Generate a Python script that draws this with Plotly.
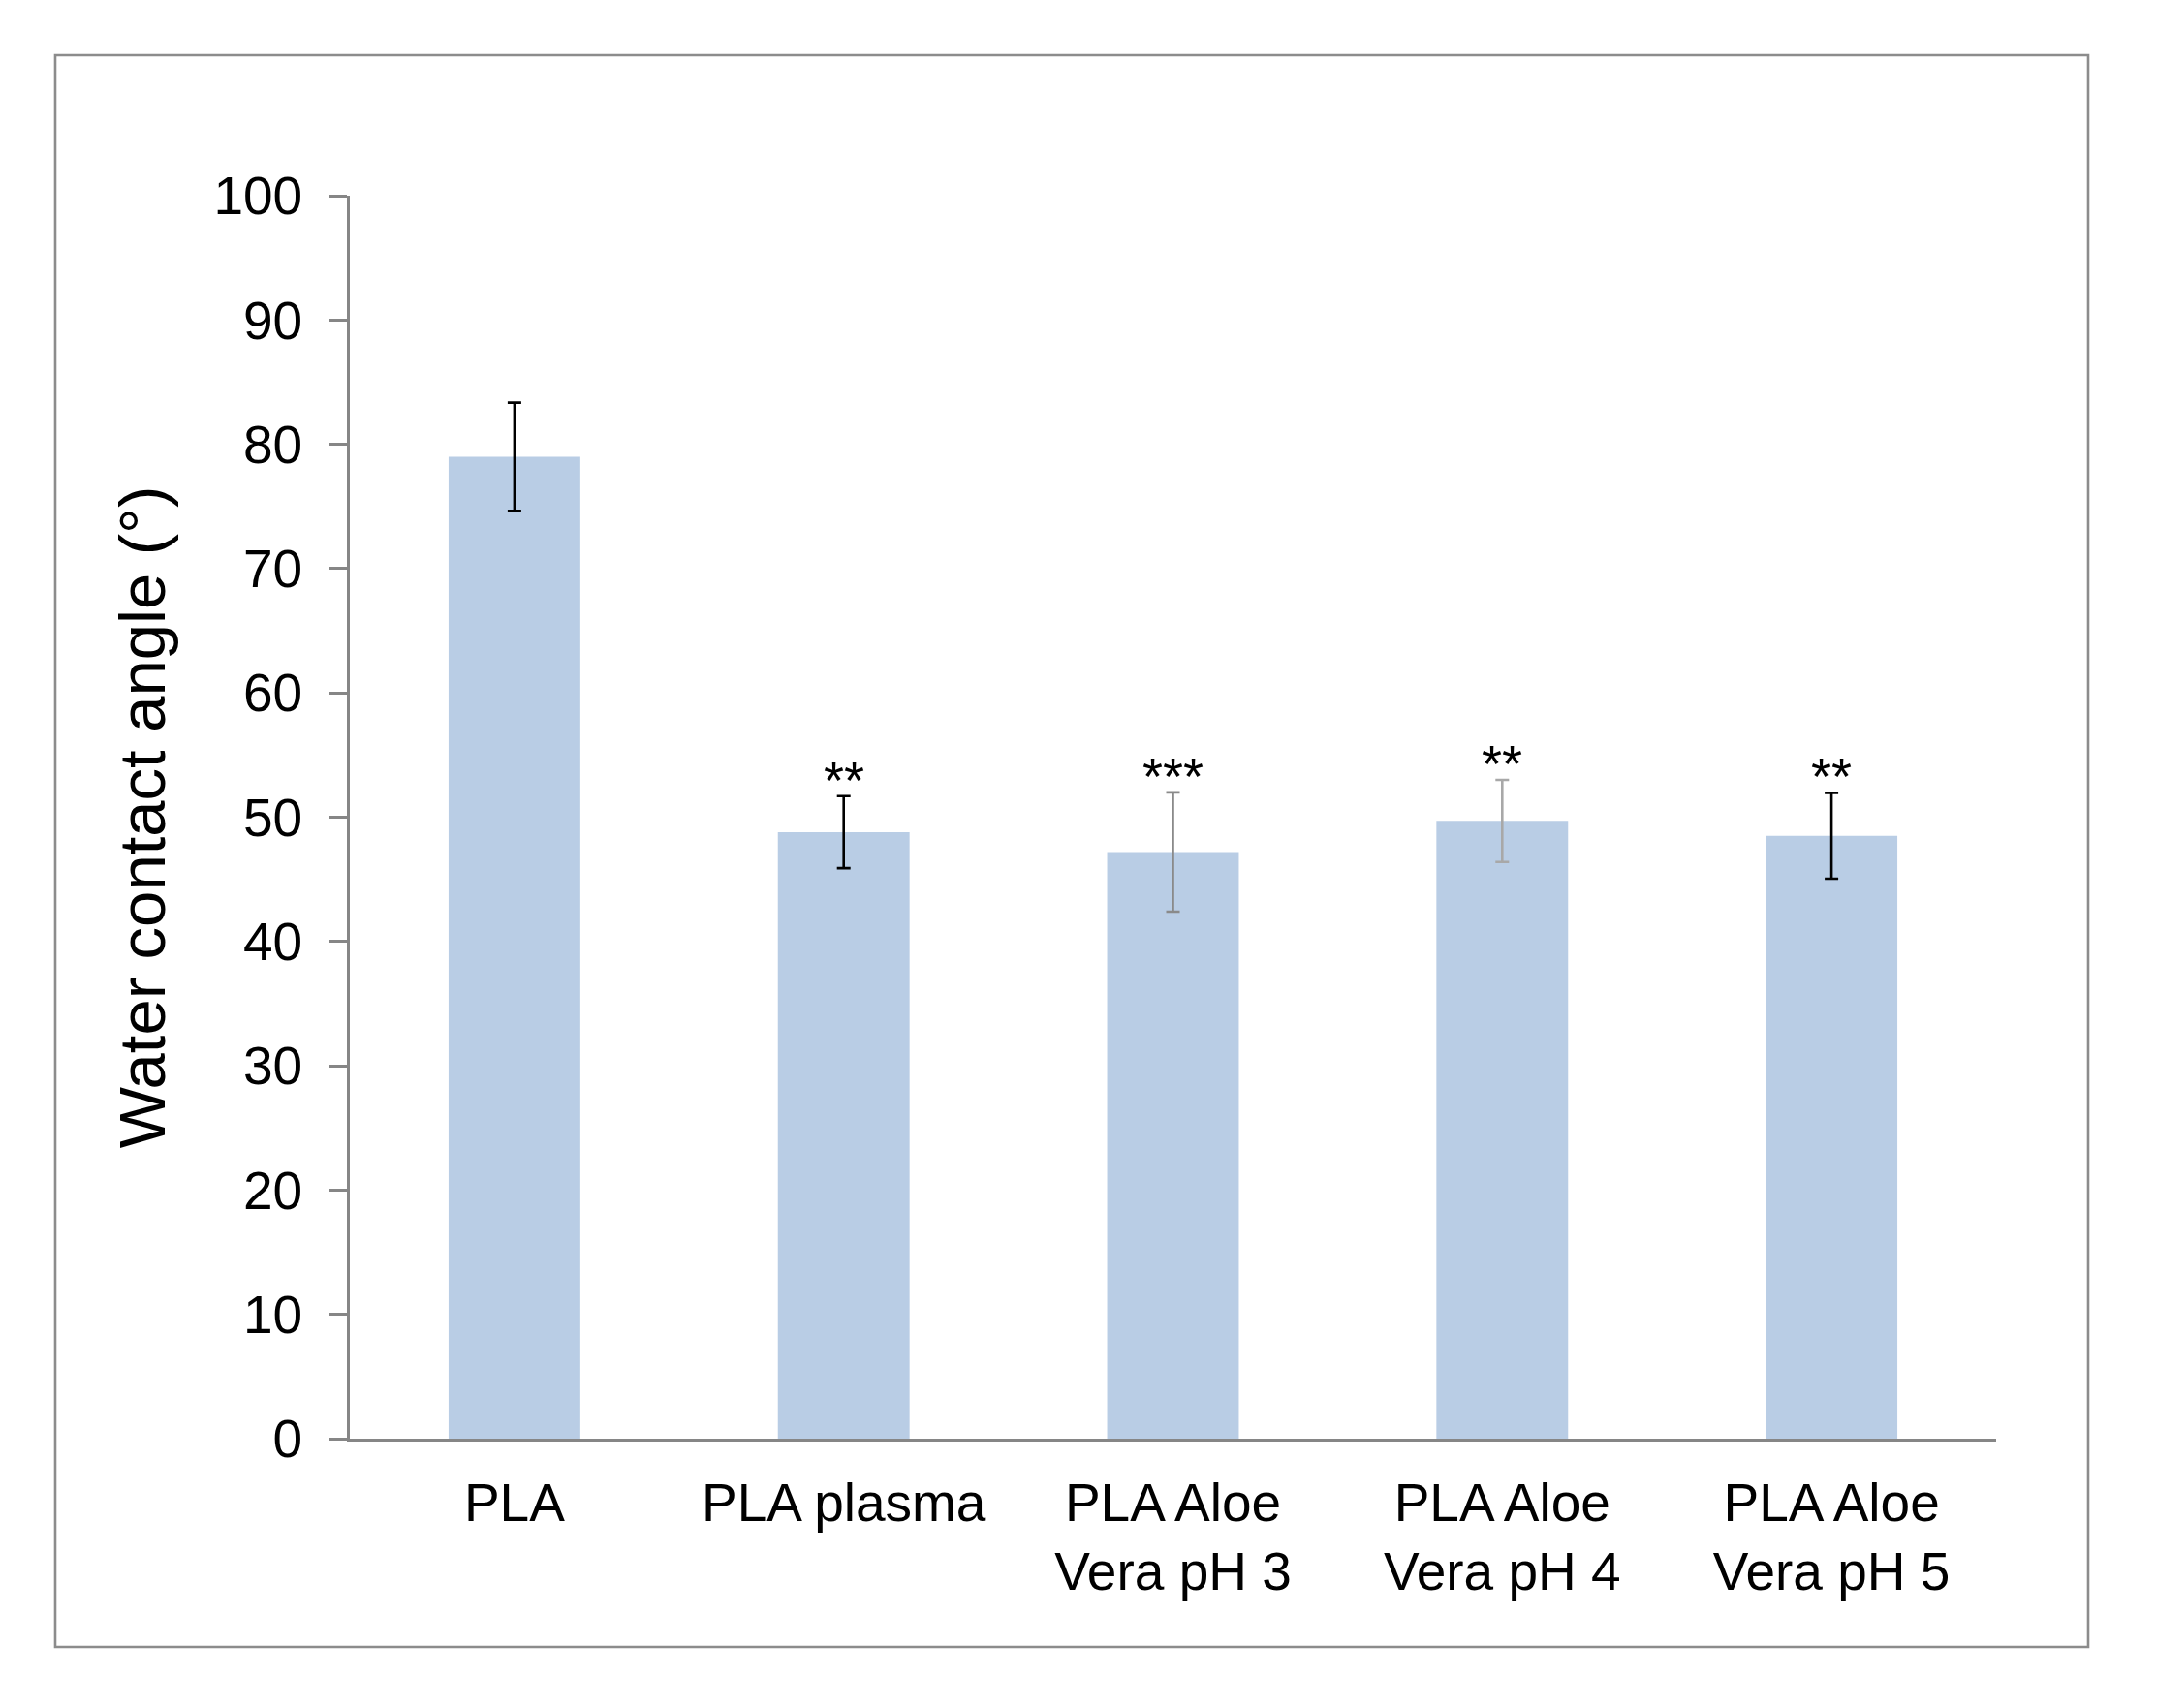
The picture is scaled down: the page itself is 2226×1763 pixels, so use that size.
import plotly.graph_objects as go

# ---- data ----
categories = ["PLA", "PLA plasma", "PLA Aloe<br>Vera pH 3", "PLA Aloe<br>Vera pH 4", "PLA Aloe<br>Vera pH 5"]
contact_angle = [79.0, 48.8, 47.2, 49.7, 48.5]
errors = [4.35, 2.9, 4.8, 3.3, 3.45]
significance = ["", "**", "***", "**", "**"]
error_colors = ["#000000", "#000000", "#8a8a8a", "#a8a8a8", "#000000"]
y_ticks = [0, 10, 20, 30, 40, 50, 60, 70, 80, 90, 100]

OFF = 8  # page body margin
W, H = 2226 - 2 * OFF, 1763 - 2 * OFF
L, R, T, B = 361 - OFF, 2060 - OFF, 202 - OFF, 1485 - OFF  # plot area pixels in figure

fig = go.Figure()
for cat, val, err, col in zip(categories, contact_angle, errors, error_colors):
    fig.add_trace(go.Bar(
        x=[cat], y=[val],
        marker=dict(color="#B9CDE5", line=dict(width=0)),
        error_y=dict(type="data", array=[err], visible=True, color=col, thickness=2.6, width=7),
        showlegend=False,
    ))

for cat, val, err, sig in zip(categories, contact_angle, errors, significance):
    if sig:
        fig.add_annotation(
            x=cat, y=val + err, text=sig, showarrow=False,
            xref="x", yref="y", yanchor="bottom", yshift=-15,
            font=dict(family="Liberation Sans, Arial", size=54, color="#000000"),
        )

# outer border
fig.add_shape(
    type="rect", xref="paper", yref="paper",
    x0=(57 - OFF - L) / (R - L), x1=(2155 - OFF - L) / (R - L),
    y0=(B - (1700 - OFF)) / (B - T), y1=(B - (57 - OFF)) / (B - T),
    line=dict(color="#8c8c8c", width=2.6), fillcolor="rgba(0,0,0,0)",
)

fig.update_layout(
    width=W, height=H,
    margin=dict(l=L, r=W - R, t=T, b=H - B, pad=0),
    paper_bgcolor="white", plot_bgcolor="white",
    bargap=0.6,
    barmode="overlay",
    font=dict(family="Liberation Sans, Arial", size=55, color="#000000"),
    showlegend=False,
)
fig.update_yaxes(
    range=[0, 100], tickvals=y_ticks, showgrid=False, zeroline=False,
    showline=True, linecolor="#868686", linewidth=2.6,
    ticks="outside", ticklen=18, tickwidth=2.6, tickcolor="#868686",
    ticklabelstandoff=17,
    tickfont=dict(size=55),
    title=dict(text="Water contact angle (°)", font=dict(size=67), standoff=28),
)
fig.update_xaxes(
    showgrid=False, zeroline=False, showline=True, linecolor="#868686", linewidth=2.6,
    ticks="", tickfont=dict(size=55), ticklabelstandoff=16,
)

fig.write_html("out.html")
